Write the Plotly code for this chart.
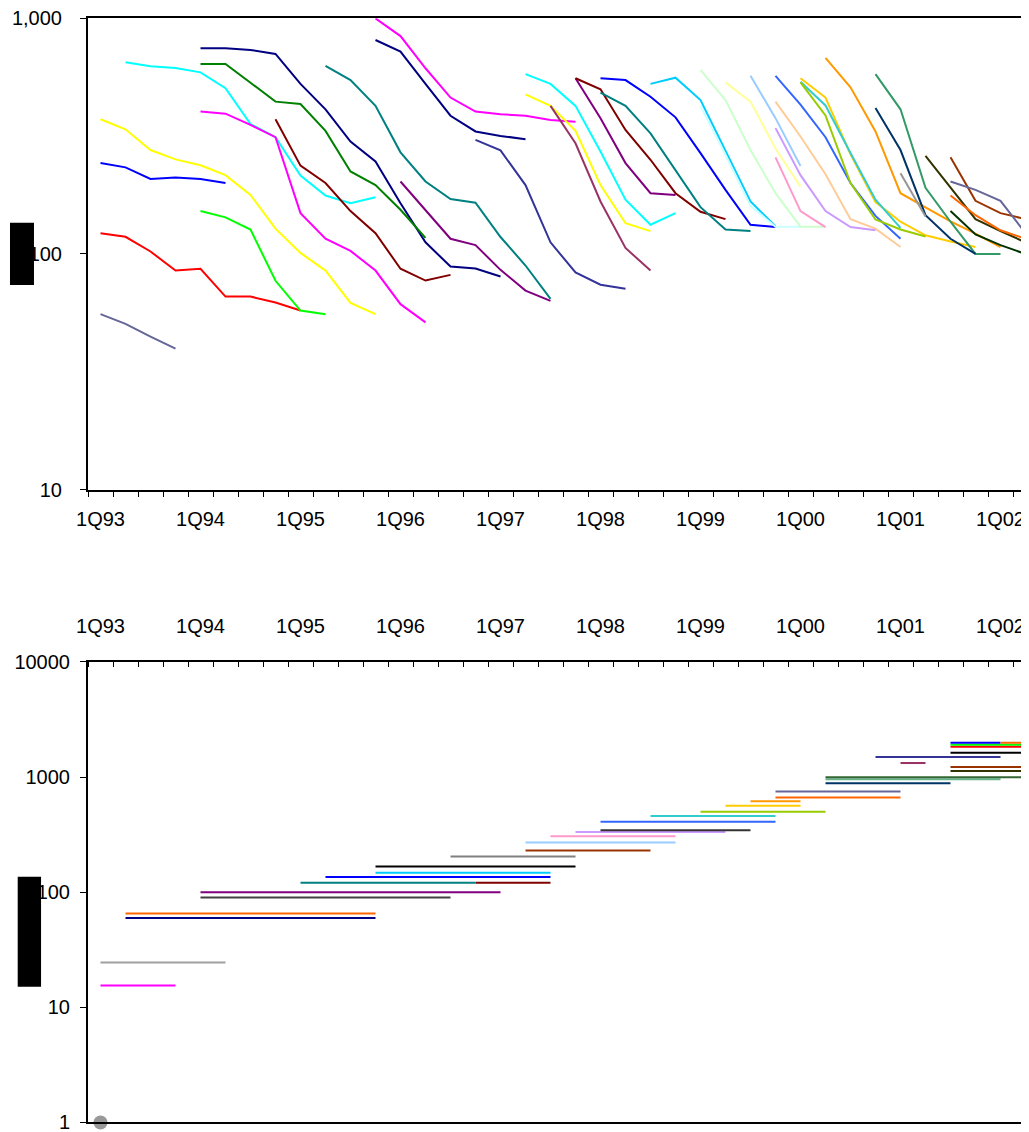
import plotly.graph_objects as go

# quarter labels 1Q93 .. 4Q02
quarters = [f"{q}Q{y:02d}" for y in list(range(93, 100)) + [0, 1, 2] for q in range(1, 5)]
year_labels = [f"1Q{y:02d}" for y in list(range(93, 100)) + [0, 1, 2]]

# ---- top panel: one declining line per series
top_starts = ["1Q93", "1Q93", "1Q93", "1Q93", "2Q93", "1Q94", "1Q94", "1Q94", "1Q94", "4Q94",
              "2Q95", "4Q95", "4Q95", "1Q96", "4Q96", "2Q97", "2Q97", "3Q97", "4Q97", "4Q97",
              "1Q98", "1Q98", "3Q98", "1Q99", "1Q99", "2Q99", "3Q99", "4Q99", "4Q99", "4Q99",
              "4Q99", "1Q00", "1Q00", "1Q00", "2Q00", "4Q00", "4Q00", "1Q01", "2Q01", "3Q01",
              "3Q01", "3Q01", "3Q01"]
top_colors = ["#666699", "#FF0000", "#0000FF", "#FFFF00", "#00FFFF", "#000080", "#008000", "#FF00FF",
              "#00FF00", "#800000", "#008080", "#FF00FF", "#000080", "#800080", "#333399", "#00FFFF",
              "#FFFF00", "#993366", "#800080", "#800000", "#008080", "#0000FF", "#00CCFF", "#CCFFFF",
              "#CCFFCC", "#FFFF99", "#99CCFF", "#3366FF", "#FFCC99", "#CC99FF", "#FF99CC", "#FFCC00",
              "#33CCCC", "#99CC00", "#FF9900", "#339966", "#003366", "#969696", "#333300", "#993300",
              "#666699", "#003300", "#FF6600"]
top_values = [
    [55.5, 50.5, 44.6, 39.6],
    [122.5, 118.2, 102.4, 85.0, 86.5, 65.9, 65.9, 62.2, 57.5],
    [243, 233, 208, 211, 208, 200],
    [373, 338, 276, 252, 238, 216, 178, 128, 101, 85, 62, 55.5],
    [651, 626, 616, 590, 505, 356, 313, 215, 177, 164, 174],
    [746, 746, 734, 706, 527, 411, 300, 247, 164, 112, 88.4, 86.7, 80.2],
    [640, 640, 533, 443, 433, 333, 224, 196, 154, 117],
    [402, 394, 353, 313, 149, 116, 103, 85, 61.2, 51.2],
    [152, 143, 127, 76.9, 57.5, 55.5],
    [373, 237, 200, 152, 122.5, 86.5, 77.1, 81.5],
    [628, 547, 425, 270, 203, 171, 165, 118, 89.3, 64.5],
    [1000, 841, 614, 461, 402, 392, 386, 370, 364],
    [809, 722, 527, 386, 331, 317, 307],
    [203, 154, 116, 109, 85.6, 69.9, 63.2],
    [305, 275, 196, 112, 83.4, 74, 71.1],
    [580, 527, 425, 272, 170, 133, 149],
    [476, 425, 333, 196, 135, 125],
    [425, 295, 167, 106, 85],
    [557, 377, 243, 181, 178],
    [557, 500, 336, 251, 181, 151, 140.5],
    [484, 425, 325, 227, 158, 127, 125],
    [557, 547, 465, 380, 268, 187, 133, 130],
    [527, 560, 450, 272, 167, 131],
    [425, 263, 160, 130.5, 130.5],
    [604, 450, 276, 181, 130.5, 130.5],
    [535, 443, 280, 193],
    [570, 377, 236],
    [570, 430, 313, 200, 145, 116],
    [443, 315, 218, 140.5, 128, 107],
    [342, 216, 152, 130, 126],
    [257, 152, 130],
    [557, 461, 265, 166, 137, 120, 113, 107],
    [538, 427, 268, 170, 129],
    [535, 387, 200, 140, 127, 118.5],
    [680, 510, 331, 181, 157.5, 137.5, 122, 107],
    [580, 411, 191, 137, 100, 100],
    [416, 276, 146, 116, 100],
    [220, 144],
    [261, 192, 140.5, 125, 112],
    [257, 168, 149, 140.5],
    [203, 187, 168, 122.5],
    [152, 121, 109, 100],
    [177, 146, 126, 116],
]

# ---- bottom panel: flat levels, start quarter, end quarter, value
seg_starts = ["1Q93", "1Q93", "2Q93", "2Q93", "1Q94", "1Q94", "4Q96", "1Q95", "2Q95", "4Q95",
              "4Q95", "3Q96", "2Q97", "2Q97", "3Q97", "4Q97", "1Q98", "1Q98", "3Q98", "1Q99",
              "2Q99", "3Q99", "4Q99", "4Q99", "2Q00", "2Q00", "2Q00", "4Q00", "1Q01", "3Q01",
              "3Q01", "3Q01", "3Q01", "3Q01", "3Q01", "1Q02"]
seg_ends = ["4Q93", "2Q94", "4Q95", "4Q95", "1Q97", "3Q96", "3Q97", "4Q96", "3Q97", "3Q97",
            "4Q97", "4Q97", "3Q98", "4Q98", "4Q98", "2Q99", "3Q99", "4Q99", "4Q99", "2Q00",
            "1Q00", "1Q00", "1Q01", "1Q01", "3Q01", "1Q02", "3Q02", "1Q02", "2Q01", "3Q02",
            "3Q02", "3Q02", "3Q02", "3Q02", "1Q02", "3Q02"]
seg_values = [15.5, 24.5, 65.3, 59.8, 100, 90, 120.5, 120.5, 135.8, 147.3,
              167.3, 204.3, 230.5, 270.4, 306.9, 332.7, 346, 408.4, 458, 499,
              563, 615, 666, 751, 881.5, 955, 994, 1493, 1324, 1222,
              1127, 1628, 1834, 1910, 1986, 1986]
seg_colors = ["#FF00FF", "#A0A0A0", "#FF6600", "#000080", "#800080", "#404040", "#800000", "#008080",
              "#0000FF", "#00CCFF", "#000000", "#808080", "#993300", "#99CCFF", "#FF99CC", "#CC99FF",
              "#333333", "#3366FF", "#33CCCC", "#99CC00", "#FFCC00", "#FF9900", "#FF6600", "#666699",
              "#003366", "#66B28A", "#336633", "#333399", "#993366", "#993300", "#333300", "#000000",
              "#FF0000", "#00FF00", "#0000FF", "#FF6600"]
# lone point at the foot of the lower axis
dot_quarter = "1Q93"
dot_value = 1

fig = go.Figure()

for start, color, vals in zip(top_starts, top_colors, top_values):
    i0 = quarters.index(start)
    fig.add_trace(go.Scatter(x=list(range(i0, i0 + len(vals))), y=vals, mode="lines",
                             line=dict(color=color, width=2), xaxis="x", yaxis="y",
                             hoverinfo="skip"))

for start, end, val, color in zip(seg_starts, seg_ends, seg_values, seg_colors):
    fig.add_trace(go.Scatter(x=[quarters.index(start), quarters.index(end)], y=[val, val],
                             mode="lines", line=dict(color=color, width=2),
                             xaxis="x2", yaxis="y2", hoverinfo="skip"))

fig.add_trace(go.Scatter(x=[quarters.index(dot_quarter)], y=[dot_value], mode="markers",
                         marker=dict(color="#999999", size=14), cliponaxis=False,
                         xaxis="x2", yaxis="y2", hoverinfo="skip"))

label_pos = [quarters.index(q) for q in year_labels]
boundaries = [i - 0.5 for i in range(len(quarters) + 1)]
xrange = [-0.5, 37.14]

axis_common = dict(showline=True, linecolor="black", linewidth=2, showgrid=False, zeroline=False,
                   automargin=False, ticklabeloverflow="allow",
                   tickfont=dict(size=20, color="black"))

# page body has an 8px margin, so everything sits 8px in from the window edge
fig.update_layout(
    width=1021, height=1124,
    margin=dict(l=80, r=0, t=0, b=0, autoexpand=False),
    paper_bgcolor="white", plot_bgcolor="white",
    font=dict(family="Liberation Sans, Arial, sans-serif", size=20, color="black"),
    showlegend=False,
    xaxis=dict(axis_common, domain=[0, 1], anchor="y", range=xrange, mirror=True,
               tickmode="array", tickvals=label_pos, ticktext=year_labels, ticks="",
               ticklabelstandoff=10,
               minor=dict(tickmode="array", tickvals=boundaries, ticks="outside",
                          ticklen=5, tickcolor="black", tickwidth=1, showgrid=False)),
    yaxis=dict(axis_common, domain=[0.5716, 0.9908], anchor="x", type="log", range=[1, 3],
               tickmode="array", tickvals=[10, 100, 1000], ticktext=["10", "100", "1,000"],
               ticks="outside", ticklen=6, tickcolor="black", ticklabelstandoff=14),
    xaxis2=dict(axis_common, domain=[0, 1], anchor="y2", side="top", range=xrange, mirror=True,
                tickmode="array", tickvals=label_pos, ticktext=year_labels, ticks="",
                ticklabelstandoff=19,
                minor=dict(tickmode="array", tickvals=boundaries, ticks="inside",
                           ticklen=5, tickcolor="black", tickwidth=1, showgrid=False)),
    yaxis2=dict(axis_common, domain=[0.0085, 0.4182], anchor="x2", type="log", range=[0, 4],
                tickmode="array", tickvals=[1, 10, 100, 1000, 10000],
                ticktext=["1", "10", "100", "1000", "10000"],
                ticks="outside", ticklen=6, tickcolor="black", ticklabelstandoff=6),
    shapes=[
        dict(type="rect", xref="paper", yref="paper", x0=-0.0829, x1=-0.0574,
             y0=0.7536, y1=0.8090, fillcolor="black", line=dict(width=0), layer="above"),
        dict(type="rect", xref="paper", yref="paper", x0=-0.0747, x1=-0.0499,
             y0=0.1293, y1=0.2271, fillcolor="black", line=dict(width=0), layer="above"),
    ],
)

fig.write_html("out.html")
